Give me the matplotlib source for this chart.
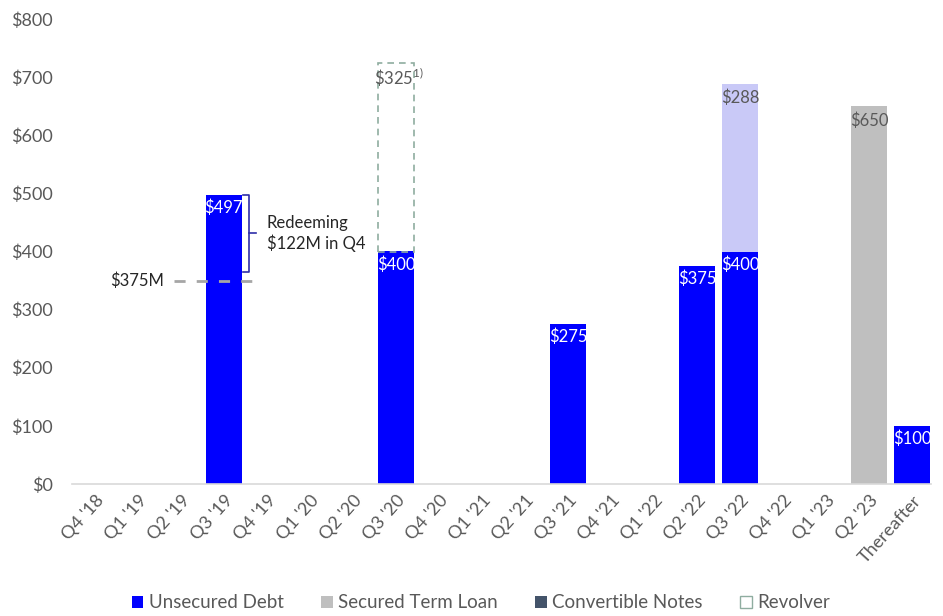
import numpy as np
import matplotlib.pyplot as plt
import matplotlib.transforms as mtransforms
from matplotlib.patches import Patch

plt.rcParams['font.family'] = ['Lato', 'DejaVu Sans']
plt.rcParams['mathtext.fontset'] = 'custom'
plt.rcParams['mathtext.rm'] = 'Lato'

quarters = ["Q4 '18", "Q1 '19", "Q2 '19", "Q3 '19", "Q4 '19", "Q1 '20", "Q2 '20",
            "Q3 '20", "Q4 '20", "Q1 '21", "Q2 '21", "Q3 '21", "Q4 '21", "Q1 '22",
            "Q2 '22", "Q3 '22", "Q4 '22", "Q1 '23", "Q2 '23", "Thereafter"]
unsecured = [0, 0, 0, 497, 0, 0, 0, 400, 0, 0, 0, 275, 0, 0, 375, 400, 0, 0, 0, 100]
secured = [0, 0, 0, 0, 0, 0, 0, 0, 0, 0, 0, 0, 0, 0, 0, 0, 0, 0, 650, 0]
other = [0, 0, 0, 0, 0, 0, 0, 0, 0, 0, 0, 0, 0, 0, 0, 288, 0, 0, 0, 0]
revolver = [0, 0, 0, 0, 0, 0, 0, 325, 0, 0, 0, 0, 0, 0, 0, 0, 0, 0, 0, 0]
yticks = [0, 100, 200, 300, 400, 500, 600, 700, 800]

c_blue = '#0000ff'
c_gray = '#bfbfbf'
c_conv = '#44546a'
c_light = '#c9c9f7'
c_rev = '#8fada0'
c_text = '#595959'

fig = plt.figure(figsize=(9.43, 6.16), dpi=100)
ax = fig.add_axes([72 / 943, 1 - 484 / 616, 859 / 943, 465 / 616])

x = np.arange(len(quarters))
unsecured = np.array(unsecured)
secured = np.array(secured)
other = np.array(other)
revolver = np.array(revolver)
w = 0.84

ax.bar(x, unsecured, w, color=c_blue)
ax.bar(x, secured, w, color=c_gray)
ax.bar(x, other, w, bottom=unsecured, color=c_light)
for i in np.nonzero(revolver)[0]:
    ax.bar(x[i], revolver[i], w, bottom=unsecured[i], facecolor='none',
           edgecolor=c_rev, linestyle=(0, (4, 3)), linewidth=1.2)

# value labels
for i in np.nonzero(unsecured)[0]:
    ax.text(x[i], unsecured[i] - 8, '$%d' % unsecured[i], color='white',
            ha='center', va='top', fontsize=12)
for i in np.nonzero(secured)[0]:
    ax.text(x[i], secured[i] - 10, '$%d' % secured[i], color=c_text,
            ha='center', va='top', fontsize=12)
for i in np.nonzero(other)[0]:
    ax.text(x[i], unsecured[i] + other[i] - 10, '$%d' % other[i], color=c_text,
            ha='center', va='top', fontsize=12)
for i in np.nonzero(revolver)[0]:
    ax.text(x[i] + 0.08, unsecured[i] + revolver[i] - 6, '\\$%d$^{1)}$' % revolver[i],
            color=c_text, ha='center', va='top', fontsize=12)

# redemption annotation
ax.plot([1.85, 3.75], [350, 350], color='#a6a6a6', linestyle=(0, (4, 4)), linewidth=2)
ax.text(1.6, 350, '$375M', color='#262626', ha='right', va='center', fontsize=12)
bx = 3.45
ax.plot([bx, bx + 0.13, bx + 0.13, bx], [497, 497, 365, 365], color='#2e2ea8', linewidth=1.2)
ax.plot([bx + 0.13, bx + 0.3], [431, 431], color='#2e2ea8', linewidth=1.2)
ax.text(bx + 0.55, 431, 'Redeeming\n$122M in Q4', color='#262626', ha='left',
        va='center', fontsize=12, linespacing=1.3)

ax.set_xlim(-0.53, 19.44)
ax.set_ylim(0, 800)
ax.set_yticks(yticks)
ax.set_yticklabels(['$%d' % v for v in yticks], color=c_text, fontsize=13)
ax.set_xticks(x)
ax.set_xticklabels(quarters, rotation=48, ha='right', rotation_mode='anchor',
                   color=c_text, fontsize=13)
offset = mtransforms.ScaledTranslation(10 / 100, 0, fig.dpi_scale_trans)
for lab in ax.get_xticklabels():
    lab.set_transform(lab.get_transform() + offset)
ax.tick_params(axis='both', length=0)
ax.tick_params(axis='y', pad=14)
ax.tick_params(axis='x', pad=6)
for s in ['top', 'right', 'left']:
    ax.spines[s].set_visible(False)
ax.spines['bottom'].set_color('#d9d9d9')
ax.spines['bottom'].set_linewidth(1.2)

handles = [Patch(facecolor=c_blue, label='Unsecured Debt'),
           Patch(facecolor=c_gray, label='Secured Term Loan'),
           Patch(facecolor=c_conv, label='Convertible Notes'),
           Patch(facecolor='white', edgecolor=c_rev, label='Revolver')]
leg = fig.legend(handles=handles, loc='center', bbox_to_anchor=(481 / 943, 1 - 603 / 616),
                 ncol=4, frameon=False, fontsize=13.5, handlelength=0.6, handleheight=0.6,
                 handletextpad=0.3, columnspacing=2.0)
for t in leg.get_texts():
    t.set_color(c_text)

plt.savefig('out.png', dpi=100)
